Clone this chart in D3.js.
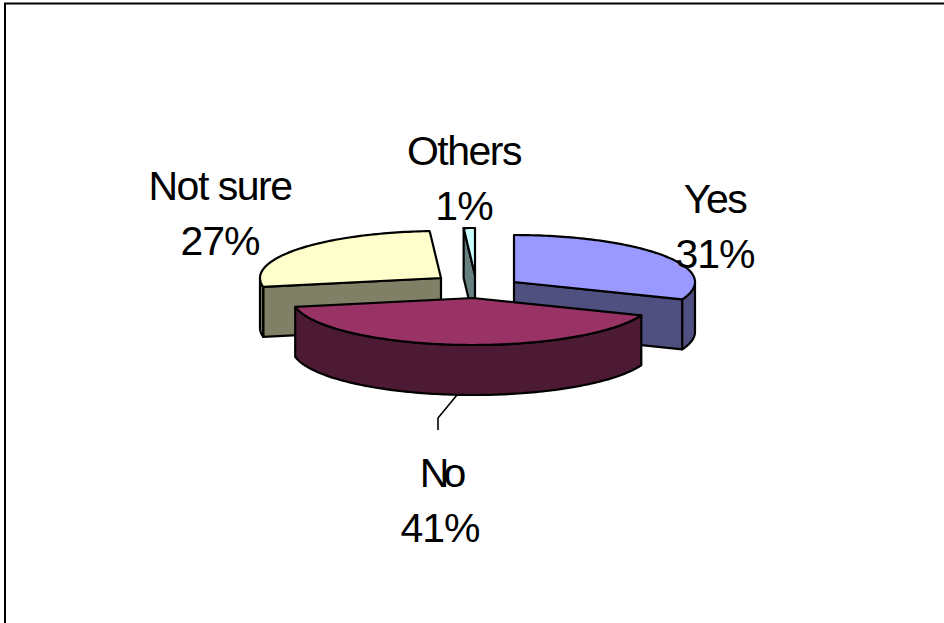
<!DOCTYPE html>
<html><head><meta charset="utf-8">
<script src="https://cdnjs.cloudflare.com/ajax/libs/d3/7.8.5/d3.min.js"></script>
<style>html,body{margin:0;padding:0;background:#fff}svg{display:block}text{font-family:"Liberation Sans",Arial,sans-serif;font-size:41px;fill:#000;text-anchor:middle}</style>
</head><body><svg id="c" width="944" height="623"></svg>
<script>
const categories = ["Yes","No","Not sure","Others"];
const values = [31,41,27,1];
const topColors = ["#9999FF","#993366","#FFFFCC","#CCFFFF"];
const sideColors = ["#4F4F80","#4D1A33","#808066","#668080"];

// layout
const apex = [[514,282],[473,298],[441,278],[475,275]];
const labelAt = [[715,213],[440,487],[220,200],[464,165]];
const nameSpacing = [-1.5,-6,-1.5,-1.5];
const RX = 181, RY = 47, DEPTH = 50, SW = 2.2;
const order = [2,3,0,1]; // painter's order, back to front

const svg = d3.select("#c");
svg.append("path").attr("d","M5,623V3.5H944").attr("fill","none").attr("stroke","#000").attr("stroke-width",2);

const arcs = d3.pie().sort(null).value(d=>d)(values);
const sx = d3.scaleLinear().domain([-1,1]).range([-RX,RX]);
const sy = d3.scaleLinear().domain([-1,1]).range([-RY,RY]);
const line = d3.line().curve(d3.curveLinear);

function rim(a,c){ return [c[0]+sx(Math.sin(a)), c[1]+sy(-Math.cos(a))]; }
function samples(a0,a1){ const n=Math.max(2,Math.ceil((a1-a0)/0.02)); return d3.range(n+1).map(i=>a0+(a1-a0)*i/n); }

function draw(i){
  const c = apex[i], a0 = arcs[i].startAngle, a1 = arcs[i].endAngle;
  const g = svg.append("g").attr("stroke","#000").attr("stroke-width",SW).attr("stroke-linejoin","round");
  const face = (pts,fill)=>g.append("path").attr("d",line(pts)+"Z").attr("fill",fill);
  const down = p=>[p[0],p[1]+DEPTH];
  const cut = a=>{ const r=rim(a,c); face([c,r,down(r),down(c)],sideColors[i]); };
  // radial cut walls, only those facing the viewer
  if (Math.sin(a0) < -1e-6) cut(a0);
  if (Math.sin(a1) > 1e-6) cut(a1);
  // outer curved wall, only the part that faces the viewer
  const w0 = Math.max(a0,Math.PI/2), w1 = Math.min(a1,Math.PI*1.5);
  if (w1>w0){ const top=samples(w0,w1).map(a=>rim(a,c)); face(top.concat(top.map(down).reverse()),sideColors[i]); }
  // top
  face([c].concat(samples(a0,a1).map(a=>rim(a,c))),topColors[i]);
}
order.forEach(draw);

// leader line for "No"
svg.append("path").attr("d",line([[457,395],[438,418],[438,430]])).attr("fill","none").attr("stroke","#000").attr("stroke-width",1.6);

categories.forEach((name,i)=>{
  const t = svg.append("text").attr("x",labelAt[i][0]).attr("y",labelAt[i][1]);
  t.append("tspan").text(name).attr("letter-spacing",nameSpacing[i]);
  t.append("tspan").attr("x",labelAt[i][0]).attr("dy",55).attr("letter-spacing",-1).text(values[i]+"%");
});
</script></body></html>
